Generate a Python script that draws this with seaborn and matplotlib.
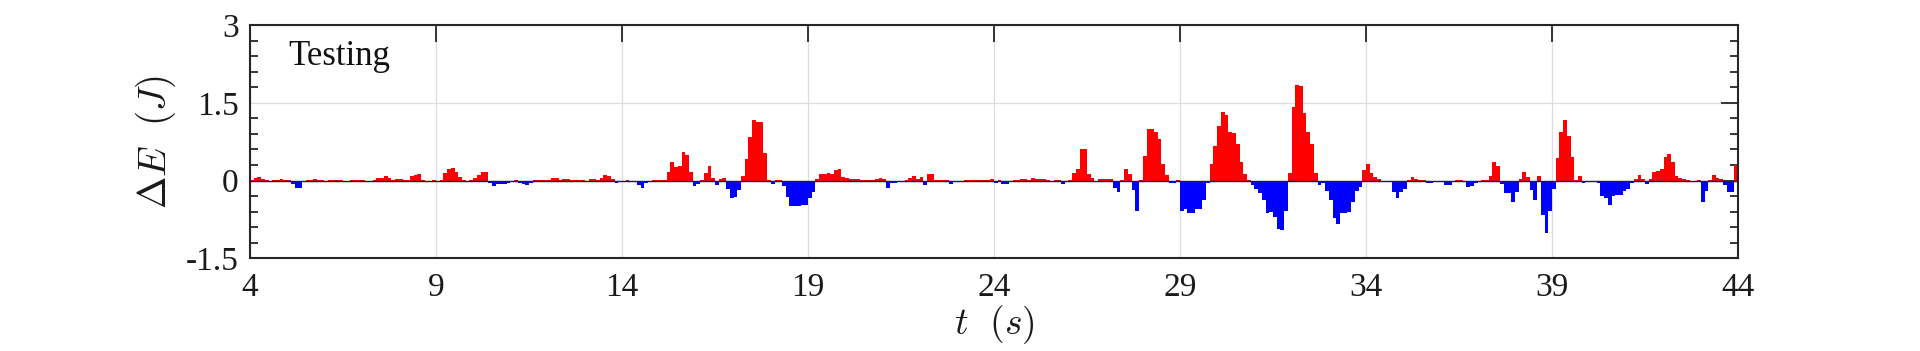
import numpy as np
import pandas as pd
import matplotlib
matplotlib.use("Agg")
import matplotlib.pyplot as plt
import seaborn as sns
from matplotlib.ticker import MultipleLocator, FixedLocator

# ---- data: energy change per 0.1 s bin, bins starting at t = 4.0 s ----
t_start = 4.0
t_step = 0.1

de_04_13 = [
    0.01, 0.04, 0.06, 0.03, 0.005, -0.03, 0.005, 0.005, 0.02, 0.005,      # 4
    0.005, -0.07, -0.14, -0.14, 0.0, 0.005, 0.005, 0.03, 0.005, 0.005,    # 5
    -0.02, 0.005, 0.015, 0.015, 0.005, -0.01, -0.01, 0.005, 0.005, 0.005, # 6
    0.005, -0.01, 0.0, 0.005, 0.04, 0.05, 0.09, 0.05, 0.005, 0.02,        # 7
    0.03, 0.005, 0.005, 0.08, 0.1, 0.12, 0.005, -0.03, -0.03, 0.005,      # 8
    -0.02, 0.005, 0.15, 0.23, 0.24, 0.17, 0.07, 0.005, -0.02, 0.005,      # 9
    0.04, 0.11, 0.16, 0.17, -0.05, -0.1, -0.065, -0.065, -0.06, -0.04,    # 10
    0.0, 0.005, -0.04, -0.07, -0.08, -0.05, 0.005, 0.01, 0.01, 0.005,     # 11
    0.005, 0.05, 0.05, 0.01, 0.03, 0.03, 0.01, 0.01, 0.01, 0.005,         # 12
    -0.02, 0.02, 0.02, 0.005, 0.04, 0.1, 0.08, 0.03, -0.045, -0.01,       # 13
]
de_14_23 = [
    0.0, 0.005, -0.02, -0.02, -0.08, -0.14, -0.04, -0.03, 0.005, 0.01,    # 14
    0.01, 0.01, 0.17, 0.35, 0.27, 0.28, 0.55, 0.49, 0.17, -0.1,           # 15
    -0.06, 0.005, 0.14, 0.28, 0.04, -0.08, 0.03, 0.045, -0.17, -0.33,     # 16
    -0.32, -0.18, 0.08, 0.41, 0.83, 1.16, 1.13, 1.13, 0.54, 0.01,         # 17
    -0.07, 0.005, 0.005, -0.1, -0.31, -0.49, -0.5, -0.5, -0.48, -0.47,    # 18
    -0.33, -0.22, 0.02, 0.12, 0.13, 0.15, 0.12, 0.2, 0.22, 0.06,          # 19
    0.05, 0.03, 0.02, 0.02, 0.01, 0.005, 0.005, 0.005, 0.03, 0.04,        # 20
    0.03, -0.15, -0.04, -0.04, -0.03, -0.02, 0.005, 0.05, 0.08, 0.02,     # 21
    0.07, -0.09, 0.12, 0.12, 0.01, 0.01, 0.01, 0.005, -0.075, -0.03,      # 22
    -0.02, -0.02, 0.01, 0.005, 0.005, 0.005, 0.005, 0.005, 0.005, 0.03,   # 23
]
de_24_33 = [
    -0.045, 0.005, -0.06, -0.06, -0.01, 0.005, 0.005, 0.02, 0.02, 0.005,  # 24
    0.04, 0.02, 0.02, 0.02, 0.005, -0.03, 0.005, 0.005, -0.065, -0.02,    # 25
    0.005, 0.14, 0.23, 0.6, 0.6, 0.12, 0.05, -0.03, 0.02, 0.02,           # 26
    0.02, 0.03, -0.15, -0.23, 0.005, 0.23, 0.13, -0.18, -0.58, 0.005,     # 27
    0.48, 1.0, 0.99, 0.94, 0.8, 0.32, 0.11, -0.05, -0.05, 0.005,          # 28
    -0.59, -0.54, -0.62, -0.63, -0.54, -0.55, -0.38, -0.05, 0.32, 0.67,   # 29
    1.06, 1.33, 1.26, 0.94, 0.91, 0.71, 0.36, 0.12, 0.01, -0.09,          # 30
    -0.17, -0.25, -0.38, -0.62, -0.6, -0.71, -0.94, -0.96, -0.59, 0.14,   # 31
    1.41, 1.84, 1.82, 1.31, 0.93, 0.7, 0.14, -0.09, -0.04, -0.2,          # 32
    -0.38, -0.73, -0.84, -0.63, -0.62, -0.6, -0.42, -0.2, -0.12, 0.2,     # 33
]
de_34_43 = [
    0.31, 0.15, 0.06, 0.03, -0.02, -0.02, -0.02, -0.22, -0.33, -0.22,     # 34
    -0.17, 0.005, 0.06, 0.03, 0.01, 0.005, -0.05, -0.05, -0.01, -0.01,    # 35
    -0.01, -0.08, -0.08, -0.01, 0.01, 0.01, -0.01, -0.12, -0.1, -0.04,    # 36
    -0.02, 0.01, 0.01, 0.09, 0.36, 0.28, -0.07, -0.25, -0.25, -0.42,      # 37
    -0.23, 0.02, 0.17, 0.06, -0.19, -0.38, 0.09, -0.67, -1.02, -0.59,     # 38
    -0.17, 0.43, 0.94, 1.16, 0.86, 0.46, 0.005, 0.09, -0.05, -0.03,       # 39
    -0.01, -0.01, -0.05, -0.3, -0.33, -0.48, -0.3, -0.27, -0.28, -0.2,    # 40
    -0.17, -0.05, 0.03, 0.1, 0.03, -0.07, 0.03, 0.17, 0.19, 0.22,         # 41
    0.46, 0.52, 0.36, 0.09, 0.04, 0.03, 0.01, -0.02, -0.02, 0.01,         # 42
    -0.41, -0.2, 0.005, 0.1, 0.04, 0.03, -0.09, -0.23, -0.23, 0.3,        # 43
]

x_ticks = [4, 9, 14, 19, 24, 29, 34, 39, 44]
y_ticks = [-1.5, 0, 1.5, 3]
y_tick_labels = ["-1.5", "0", "1.5", "3"]
annotation = "Testing"

# ---- build frame ----
de = np.array(de_04_13 + de_14_23 + de_24_33 + de_34_43)
t_center = np.round(t_start + t_step * np.arange(len(de)) + t_step / 2, 2)
df = pd.DataFrame({"t": t_center, "dE": de,
                   "sign": np.where(de >= 0, "pos", "neg")})

sns.set_theme(style="white")
plt.rcParams["font.family"] = ["Liberation Serif", "DejaVu Serif"]
plt.rcParams["mathtext.fontset"] = "cm"

fig = plt.figure(figsize=(19.2, 3.51), dpi=100)
ax = fig.add_axes([0.1302, 0.2641, 0.7750, 0.6647])

ax.grid(True, which="major", color="#dddddd", linewidth=0.9, zorder=0)
ax.set_axisbelow(True)

sns.barplot(data=df, x="t", y="dE", hue="sign",
            palette={"pos": "#ff0000", "neg": "#0000ff"},
            native_scale=True, dodge=False, width=1.0, saturation=1,
            errorbar=None, linewidth=0, legend=False, ax=ax, zorder=2)

ax.axhline(0, color="#1c1c50", linewidth=1.0, zorder=3)

ax.set_xlim(4, 44)
ax.set_ylim(-1.5, 3)
ax.xaxis.set_major_locator(FixedLocator(x_ticks))
ax.set_xticklabels([str(v) for v in x_ticks])
ax.yaxis.set_major_locator(FixedLocator(y_ticks))
ax.set_yticklabels(y_tick_labels)
ax.yaxis.set_minor_locator(MultipleLocator(0.3))

ax.tick_params(axis="both", which="major", direction="in", length=12,
               width=1.3, color="#262626", labelsize=24, labelcolor="#1a1a1a",
               top=True, right=True)
ax.tick_params(axis="x", which="major", pad=10)
ax.tick_params(axis="y", which="major", pad=8)
ax.tick_params(axis="y", which="minor", direction="in", length=6,
               width=1.3, color="#262626", left=True, right=True)

for s in ax.spines.values():
    s.set_color("#262626")
    s.set_linewidth(1.5)
    s.set_zorder(5)

ax.set_xlabel(r"$t\ \ (s)$", fontsize=27, color="#1a1a1a", labelpad=0)
ax.set_ylabel(r"$\Delta E\ \ (J)$", fontsize=28, color="#1a1a1a", labelpad=6)

ax.text(0.0255, 0.828, annotation, transform=ax.transAxes, fontsize=25,
        color="#111111", ha="left", va="baseline")

fig.savefig("out.png", dpi=100, facecolor="white")
